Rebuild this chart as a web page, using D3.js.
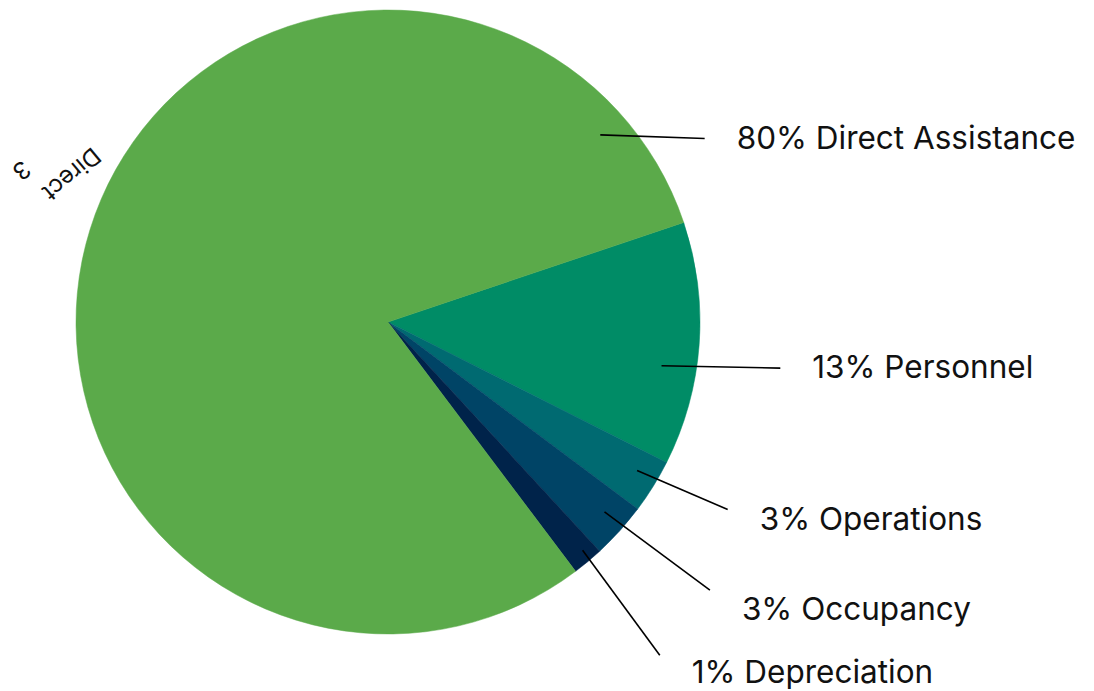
<!DOCTYPE html>
<html>
<head>
<meta charset="utf-8">
<script src="https://cdn.jsdelivr.net/npm/d3@7"></script>
<style>
  body { margin: 0; background: #fff; }
  svg { display: block; }
  text { font-family: Inter, "Noto Sans", sans-serif; fill: #111; }
</style>
</head>
<body>
<svg id="chart" width="1094" height="691"></svg>
<script>
// data, in drawing order (clockwise from the Personnel slice)
var categories = ["Personnel", "Operations", "Occupancy", "Depreciation", "Direct Assistance"];
var values = [12.6, 2.8, 2.9, 1.6, 80.1];
var percentLabels = ["13%", "3%", "3%", "1%", "80%"];
var colors = ["#008c66", "#006a71", "#004466", "#00234a", "#5baa4a"];

var svg = d3.select("#chart");
var cx = 388, cy = 322, radius = 312;

// pie starts a bit past 2 o'clock, like the original
var startAngle = 71.4 * Math.PI / 180;
var pie = d3.pie().sort(null).value(function(d) { return d; })
    .startAngle(startAngle).endAngle(startAngle + 2 * Math.PI);
var arcs = pie(values);

var arc = d3.arc().innerRadius(0).outerRadius(radius);

var g = svg.append("g").attr("transform", "translate(" + cx + "," + cy + ")");

g.selectAll("path.slice")
  .data(arcs)
  .enter().append("path")
  .attr("class", "slice")
  .attr("d", arc)
  .attr("fill", function(d, i) { return colors[i]; })
  .attr("stroke", function(d, i) { return colors[i]; })
  .attr("stroke-width", 0.5);

// outside labels: leader starts inside the slice, ends near the text
// start: offset from slice middle (deg) + radius; end: angle (deg) + radius
var leaderStart = [
  {da: 5, r: 277},
  {da: -1, r: 290},
  {da: -0.8, r: 288},
  {da: -0.6, r: 300},
  {da: 0, r: 283}
];
var leaderEnd = [
  {a: 96.7, r: 395},
  {a: 118.9, r: 388},
  {a: 129.8, r: 419},
  {a: 140.8, r: 430},
  {a: 59.9, r: 366}
];
var baselineShift = [10, 20, 30, 28, 11];

function polar(a, r) {
  return [Math.sin(a) * r, -Math.cos(a) * r];
}

arcs.forEach(function(d, i) {
  var mid = (d.startAngle + d.endAngle) / 2 + leaderStart[i].da * Math.PI / 180;
  // the big slice has its leader up on the right instead of at its middle
  if (i === 4) mid = 48.6 * Math.PI / 180;
  var p0 = polar(mid, leaderStart[i].r);
  var e = leaderEnd[i];
  var p1 = polar(e.a * Math.PI / 180, e.r);
  g.append("line")
    .attr("x1", p0[0]).attr("y1", p0[1])
    .attr("x2", p1[0]).attr("y2", p1[1])
    .attr("stroke", "#000")
    .attr("stroke-width", 1.6);
  g.append("text")
    .attr("x", p1[0] + 32)
    .attr("y", p1[1] + baselineShift[i])
    .style("font-size", "31.5px")
    .text(percentLabels[i] + " " + categories[i]);
});

// stray inner label of the big slice, rotated and cut off at the page edge
var big = arcs[4];
var bigMid = (big.startAngle + big.endAngle) / 2;
var lp = polar(bigMid, 357);
var inner = g.append("g")
  .attr("transform", "translate(" + (lp[0] + 45) + "," + (lp[1] - 70) + ") rotate(140)");
inner.append("text")
  .attr("x", 0).attr("y", 0)
  .style("font-size", "24px")
  .text("Direct");
inner.append("text")
  .attr("x", 62).attr("y", 35)
  .style("font-size", "24px")
  .text("3");
</script>
</body>
</html>
